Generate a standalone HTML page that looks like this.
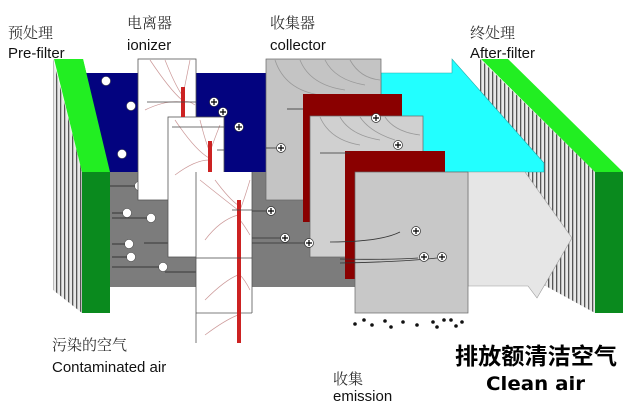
<!DOCTYPE html>
<html><head><meta charset="utf-8"><style>
body{margin:0;background:#fff;width:635px;height:405px;overflow:hidden}
svg{display:block}
.t{font-family:"Liberation Sans","Noto Sans CJK SC",sans-serif;fill:#111}
.c{font-family:"Noto Serif CJK SC","Noto Sans CJK SC",serif;fill:#333}
</style></head><body>
<svg width="635" height="405" viewBox="0 0 635 405" xmlns="http://www.w3.org/2000/svg">
<defs>
<pattern id="st" width="4" height="10" patternUnits="userSpaceOnUse"><rect width="4" height="10" fill="#e8e8e8"/><rect width="1.3" height="10" fill="#555"/></pattern>
</defs>
<text class="c" x="8" y="38" font-size="15">预处理</text>
<text class="t" x="8" y="58" font-size="15">Pre-filter</text>
<text class="c" x="127" y="28" font-size="15">电离器</text>
<text class="t" x="127" y="50" font-size="15">ionizer</text>
<text class="c" x="270" y="28" font-size="15">收集器</text>
<text class="t" x="270" y="50" font-size="15">collector</text>
<text class="c" x="470" y="38" font-size="15">终处理</text>
<text class="t" x="470" y="58" font-size="15">After-filter</text>

<polygon points="53,59 82,172 82,313 53,290" fill="url(#st)"/>
<polygon points="54,59 83,59 110,172 82,172" fill="#22ee22"/>
<rect x="82" y="172" width="28" height="141" fill="#0a8a1e"/>

<rect x="85" y="73" width="183" height="99" fill="#03037f"/>
<polygon points="83,59 110,172 83,172" fill="#22ee22"/>
<rect x="110" y="172" width="250" height="115" fill="#7c7c7c"/>

<polygon points="480,59 595,172 595,313 480,250" fill="url(#st)"/>
<polygon points="481,59 508,59 623,172 595,172" fill="#22ee22"/>
<rect x="595" y="172" width="28" height="141" fill="#0a8a1e"/>

<polygon points="381,73 452,73 452,59 544,163 544,172 445,172 381,172" fill="#22ffff" stroke="#2aa" stroke-width="0.6"/>
<polygon points="468,172 525,172 572,238 537,298 528,286 468,286" fill="#e6e6e6" stroke="#999" stroke-width="0.6"/>

<g fill="#fff" stroke="#555" stroke-width="0.6">
<circle cx="106" cy="81" r="4.5"/><circle cx="131" cy="106" r="4.5"/><circle cx="122" cy="154" r="4.5"/>
<circle cx="139" cy="186" r="4.5"/><circle cx="127" cy="213" r="4.5"/><circle cx="151" cy="218" r="4.5"/>
<circle cx="129" cy="244" r="4.5"/><circle cx="131" cy="257" r="4.5"/><circle cx="163" cy="267" r="4.5"/><circle cx="177" cy="243" r="4.5"/><circle cx="205" cy="271" r="4.5"/>
</g>
<g stroke="#222" stroke-width="0.8">
<line x1="110" y1="186" x2="135" y2="186"/><line x1="112" y1="213" x2="123" y2="213"/><line x1="112" y1="218" x2="147" y2="218"/>
<line x1="112" y1="244" x2="125" y2="244"/><line x1="112" y1="257" x2="127" y2="257"/><line x1="112" y1="267" x2="159" y2="267"/>
<line x1="144" y1="243" x2="173" y2="243"/><line x1="165" y1="272" x2="201" y2="272"/>
</g>

<g stroke="#555" stroke-width="0.8" fill="#fff">
<rect x="138" y="59" width="58" height="141"/>
<rect x="168" y="117" width="56" height="140"/>
<rect x="196" y="172" width="56" height="171" stroke="none"/>
<line x1="196" y1="172" x2="196" y2="343"/><line x1="252" y1="172" x2="252" y2="313"/><line x1="196" y1="313" x2="252" y2="313"/>
</g>
<g fill="none" stroke="#c99" stroke-width="0.7">
<path d="M150,60 Q170,90 182,100 M165,60 Q175,85 182,95 M190,60 Q186,80 183,95 M145,110 Q165,100 182,102 M195,105 Q188,100 184,102"/>
<path d="M175,120 Q195,150 209,158 M200,120 Q205,140 209,150 M220,125 Q214,140 210,152 M175,175 Q195,160 209,160"/>
<path d="M200,180 Q225,200 238,210 M215,180 Q230,200 238,205 M250,180 Q244,200 240,210 M205,240 Q220,220 238,215 M250,235 Q244,225 240,220 M205,300 Q225,280 238,275 M250,290 Q245,280 240,275 M205,335 Q225,320 238,315"/>
</g>
<g fill="#cc2222">
<rect x="181" y="87" width="4" height="30"/><rect x="208" y="141" width="4" height="31"/><rect x="237" y="200" width="4" height="143"/>
</g>
<g stroke="#444" stroke-width="0.8">
<line x1="147" y1="102" x2="196" y2="102"/><line x1="172" y1="127" x2="224" y2="127"/><line x1="217" y1="150" x2="224" y2="150"/><line x1="232" y1="210" x2="252" y2="210"/><line x1="196" y1="258" x2="252" y2="258"/>
</g>

<g fill="#fff" stroke="#333" stroke-width="0.6">
<circle cx="214" cy="102" r="4.5"/><circle cx="223" cy="112" r="4.5"/><circle cx="239" cy="127" r="4.5"/>
</g>

<rect x="266" y="59" width="115" height="141" fill="#c4c4c4" stroke="#666" stroke-width="0.7"/>
<path d="M275,60 Q285,90 320,95 M300,60 Q310,85 345,90 M325,60 Q335,80 365,85 M350,60 Q360,78 380,80" fill="none" stroke="#999" stroke-width="0.8"/>
<rect x="303" y="94" width="99" height="128" fill="#8a0000"/>
<rect x="310" y="116" width="113" height="141" fill="#d0d0d0" stroke="#666" stroke-width="0.7"/>
<path d="M320,117 Q330,140 360,145 M340,117 Q350,135 380,140 M360,117 Q370,132 395,140 M385,117 Q395,132 420,135" fill="none" stroke="#999" stroke-width="0.8"/>
<rect x="345" y="151" width="100" height="128" fill="#8a0000"/>
<rect x="355" y="172" width="113" height="141" fill="#c8c8c8" stroke="#666" stroke-width="0.7"/>
<g stroke="#333" stroke-width="0.8" fill="none">
<line x1="287" y1="109" x2="303" y2="109"/><line x1="280" y1="148" x2="266" y2="148"/>
<line x1="320" y1="153" x2="350" y2="153"/>
<line x1="252" y1="211" x2="270" y2="211"/><line x1="252" y1="238" x2="284" y2="238"/><line x1="252" y1="243" x2="310" y2="243"/>
<path d="M330,242 Q380,242 400,232 M340,259 Q390,260 418,258 M340,263 Q400,262 437,258"/>
</g>
<g fill="#fff" stroke="#333" stroke-width="0.7">
<circle cx="376" cy="118" r="4.5"/><circle cx="398" cy="145" r="4.5"/><circle cx="281" cy="148" r="4.5"/><circle cx="271" cy="211" r="4.5"/><circle cx="285" cy="238" r="4.5"/><circle cx="309" cy="243" r="4.5"/>
<circle cx="416" cy="231" r="4.5"/><circle cx="424" cy="257" r="4.5"/><circle cx="442" cy="257" r="4.5"/>
</g>
<g stroke="#000" stroke-width="1.2">
<path d="M373,118h6M376,115v6M395,145h6M398,142v6M278,148h6M281,145v6M268,211h6M271,208v6M282,238h6M285,235v6M306,243h6M309,240v6M413,231h6M416,228v6M421,257h6M424,254v6M439,257h6M442,254v6M211,102h6M214,99v6M220,112h6M223,109v6M236,127h6M239,124v6"/>
</g>
<g fill="#111">
<circle cx="355" cy="324" r="1.8"/><circle cx="364" cy="320" r="1.8"/><circle cx="372" cy="325" r="1.8"/><circle cx="385" cy="321" r="1.8"/><circle cx="391" cy="327" r="1.8"/><circle cx="403" cy="322" r="1.8"/><circle cx="417" cy="325" r="1.8"/><circle cx="433" cy="322" r="1.8"/><circle cx="437" cy="327" r="1.8"/><circle cx="451" cy="320" r="1.8"/><circle cx="456" cy="326" r="1.8"/><circle cx="462" cy="322" r="1.8"/><circle cx="444" cy="320" r="1.8"/>
</g>

<text class="c" x="52" y="350" font-size="15">污染的空气</text>
<text class="t" x="52" y="372" font-size="15">Contaminated air</text>
<text class="c" x="333" y="384" font-size="15">收集</text>
<text class="t" x="333" y="401" font-size="15">emission</text>
<text x="455" y="364" font-size="23" font-weight="bold" font-family="'Noto Sans CJK SC',sans-serif" fill="#000" textLength="162" lengthAdjust="spacingAndGlyphs">排放额清洁空气</text>
<text x="486" y="390" font-size="19" font-weight="bold" font-family="'DejaVu Sans',sans-serif" fill="#000" textLength="99" lengthAdjust="spacingAndGlyphs">Clean air</text>
</svg>
</body></html>
